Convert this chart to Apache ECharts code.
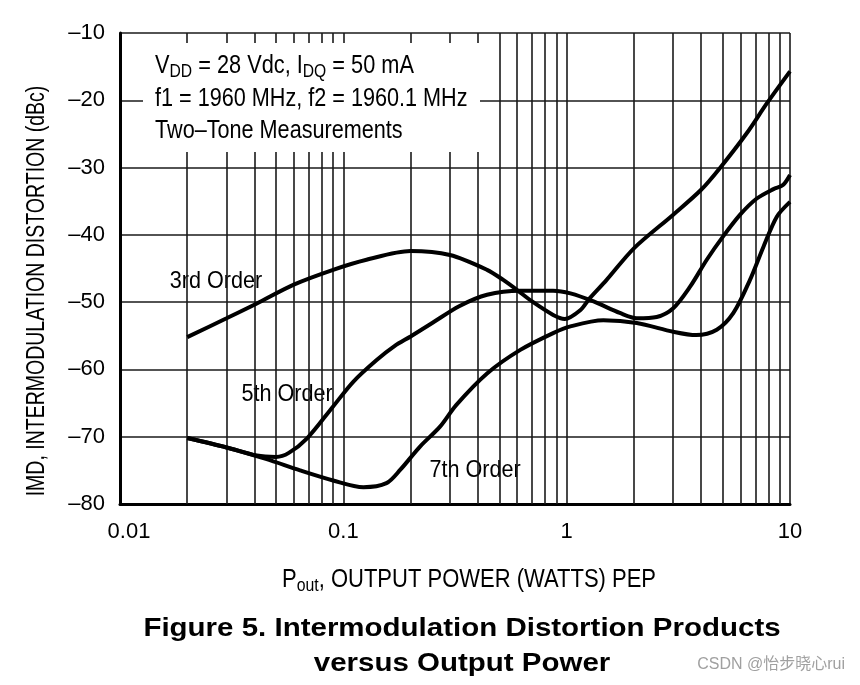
<!DOCTYPE html>
<html>
<head>
<meta charset="utf-8">
<script src="https://cdn.jsdelivr.net/npm/echarts@6/dist/echarts.min.js"></script>
<style>html,body{margin:0;padding:0;background:#fff}#c{width:860px;height:685px}</style>
</head>
<body>
<div id="c"></div>
<script>
// ---- data (x = output power W PEP, y = IMD dBc) ----
const order3 = [[0.02,-55.2],[0.03,-52.4],[0.041,-50.2],[0.06,-47.4],[0.09,-45.2],[0.127,-43.7],[0.2,-42.4],[0.3,-43.0],[0.44,-45.2],[0.52,-46.7],[0.6,-48.2],[0.7,-49.9],[0.87,-51.9],[0.98,-52.5],[1.15,-51.2],[1.27,-49.4],[1.5,-46.8],[2.0,-42.0],[3.0,-37.0],[4.0,-33.3],[4.9,-29.9],[6.4,-24.9],[7.9,-20.4],[10,-15.7]];
const order5 = [[0.02,-70.2],[0.03,-71.6],[0.041,-72.8],[0.05,-73.0],[0.057,-72.4],[0.069,-70.2],[0.09,-65.5],[0.111,-61.8],[0.141,-58.6],[0.17,-56.5],[0.2,-55.1],[0.25,-53.1],[0.33,-50.6],[0.44,-48.9],[0.62,-48.3],[0.87,-48.3],[1.04,-48.7],[1.32,-49.9],[1.73,-51.6],[2.06,-52.4],[2.53,-52.2],[3.0,-50.9],[3.57,-47.7],[4.24,-43.7],[5.0,-40.3],[5.98,-37.0],[7.1,-34.6],[8.43,-33.2],[9.3,-32.6],[10,-31.1]];
const order7 = [[0.02,-70.2],[0.03,-71.6],[0.045,-73.3],[0.064,-75.0],[0.09,-76.5],[0.123,-77.5],[0.156,-76.9],[0.18,-74.9],[0.22,-71.5],[0.271,-68.5],[0.32,-65.3],[0.44,-60.6],[0.62,-57.1],[0.87,-54.6],[1.04,-53.6],[1.46,-52.7],[2.06,-53.1],[3.0,-54.4],[3.8,-54.9],[4.7,-54.1],[5.58,-51.6],[6.62,-46.7],[7.6,-41.8],[8.73,-37.3],[10,-35.1]];
const minorGrid = [0.02,0.03,0.04,0.05,0.06,0.07,0.08,0.09,0.2,0.3,0.4,0.5,0.6,0.7,0.8,0.9,2,3,4,5,6,7,8,9];
const yMin = -80, yMax = -10, yStep = 10;
const xMin = 0.01, xMax = 10;
const seriesNames = ['3rd Order','5th Order','7th Order'];

const FONT = '"Liberation Sans",Arial,sans-serif';
const chart = echarts.init(document.getElementById('c'), null, {renderer:'canvas'});
function curve(name, data){
  return {name, type:'line', data, smooth:0.3, showSymbol:false, symbol:'none', z:5,
    lineStyle:{color:'#000', width:4}, itemStyle:{color:'#000'}, silent:true};
}
function txt(x, y, text, size, sx, extra){
  return Object.assign({type:'text', z:60, x, y, scaleX:sx, style:Object.assign({text, font:size+'px '+FONT, fill:'#000', verticalAlign:'middle'}, extra||{})});
}
chart.setOption({
  animation:false,
  backgroundColor:'#fff',
  grid:{left:120, top:33, right:70, bottom:181, containLabel:false},
  xAxis:{type:'log', logBase:10, min:xMin, max:xMax,
    axisLine:{show:true, onZero:false, lineStyle:{color:'#000', width:3}},
    axisTick:{show:false},
    axisLabel:{color:'#000', fontSize:22, fontFamily:FONT, margin:17,
      formatter:v=>{const s=String(+v.toPrecision(3)); return v<0.011?'{f|'+s+'}':s;},
      rich:{f:{fontSize:22, fontFamily:FONT, color:'#000', padding:[0,0,0,18]}}},
    splitLine:{show:true, lineStyle:{color:'#1a1a1a', width:1.6}}},
  yAxis:{type:'value', min:yMin, max:yMax, interval:yStep,
    axisLine:{show:true, onZero:false, lineStyle:{color:'#000', width:3}},
    axisTick:{show:false},
    axisLabel:{color:'#000', fontSize:22, fontFamily:FONT, margin:15,
      formatter:v=>(v<0?'\u2013'+Math.abs(v):String(v))},
    splitLine:{show:true, lineStyle:{color:'#1a1a1a', width:1.6}}},
  series:[
    {type:'line', data:[], z:1, silent:true,
      markLine:{symbol:'none', silent:true, animation:false, label:{show:false},
        lineStyle:{color:'#1a1a1a', width:1.6, type:'solid'},
        data:minorGrid.map(v=>({xAxis:v}))}},
    curve(seriesNames[0], order3),
    curve(seriesNames[1], order5),
    curve(seriesNames[2], order7)
  ],
  graphic:[
    {type:'rect', z:50, shape:{x:143, y:43, width:337, height:109}, style:{fill:'#fff'}},
    {type:'text', z:60, x:155, y:66, scaleX:0.87, style:{
      text:'{n|V}{s|DD}{n| = 28 Vdc, I}{s|DQ}{n| = 50 mA}',
      verticalAlign:'middle', fill:'#000',
      rich:{n:{fontSize:25, fontFamily:FONT, fill:'#000', lineHeight:30},
            s:{fontSize:18, fontFamily:FONT, fill:'#000', lineHeight:30, padding:[13,0,0,0]}}}},
    txt(155, 99, 'f1 = 1960 MHz, f2 = 1960.1 MHz', 25, 0.865),
    txt(155, 131, 'Two\u2013Tone Measurements', 25, 0.865),
    Object.assign(txt(216, 281, seriesNames[0], 24, 0.9, {align:'center', backgroundColor:'#fff', padding:[3,3]}), {z:3}),
    Object.assign(txt(287, 394, seriesNames[1], 24, 0.9, {align:'center', backgroundColor:'#fff', padding:[3,3]}), {z:3}),
    Object.assign(txt(475, 470, seriesNames[2], 24, 0.9, {align:'center', backgroundColor:'#fff', padding:[3,3]}), {z:3}),
    Object.assign(txt(37, 291, 'IMD, INTERMODULATION DISTORTION (dBc)', 25, 0.78, {align:'center'}), {rotation:Math.PI/2}),
    {type:'text', z:60, x:469, y:580, scaleX:0.88, style:{
      text:'{n|P}{s|out}{n|, OUTPUT POWER (WATTS) PEP}', align:'center', verticalAlign:'middle',
      rich:{n:{fontSize:25, fontFamily:FONT, fill:'#000', lineHeight:30},
            s:{fontSize:18, fontFamily:FONT, fill:'#000', lineHeight:30, padding:[13,0,0,0]}}}},
    txt(462, 629, 'Figure 5. Intermodulation Distortion Products', 'bold 26', 1.134, {align:'center'}),
    txt(462, 664, 'versus Output Power', 'bold 26', 1.134, {align:'center'}),
    {type:'text', z:60, x:845, y:665, style:{text:'CSDN @怡步晓心rui', font:'16px "Liberation Sans","Noto Sans CJK SC",sans-serif', fill:'#a0a0a0', align:'right', verticalAlign:'middle'}}
  ]
});
</script>
</body>
</html>
